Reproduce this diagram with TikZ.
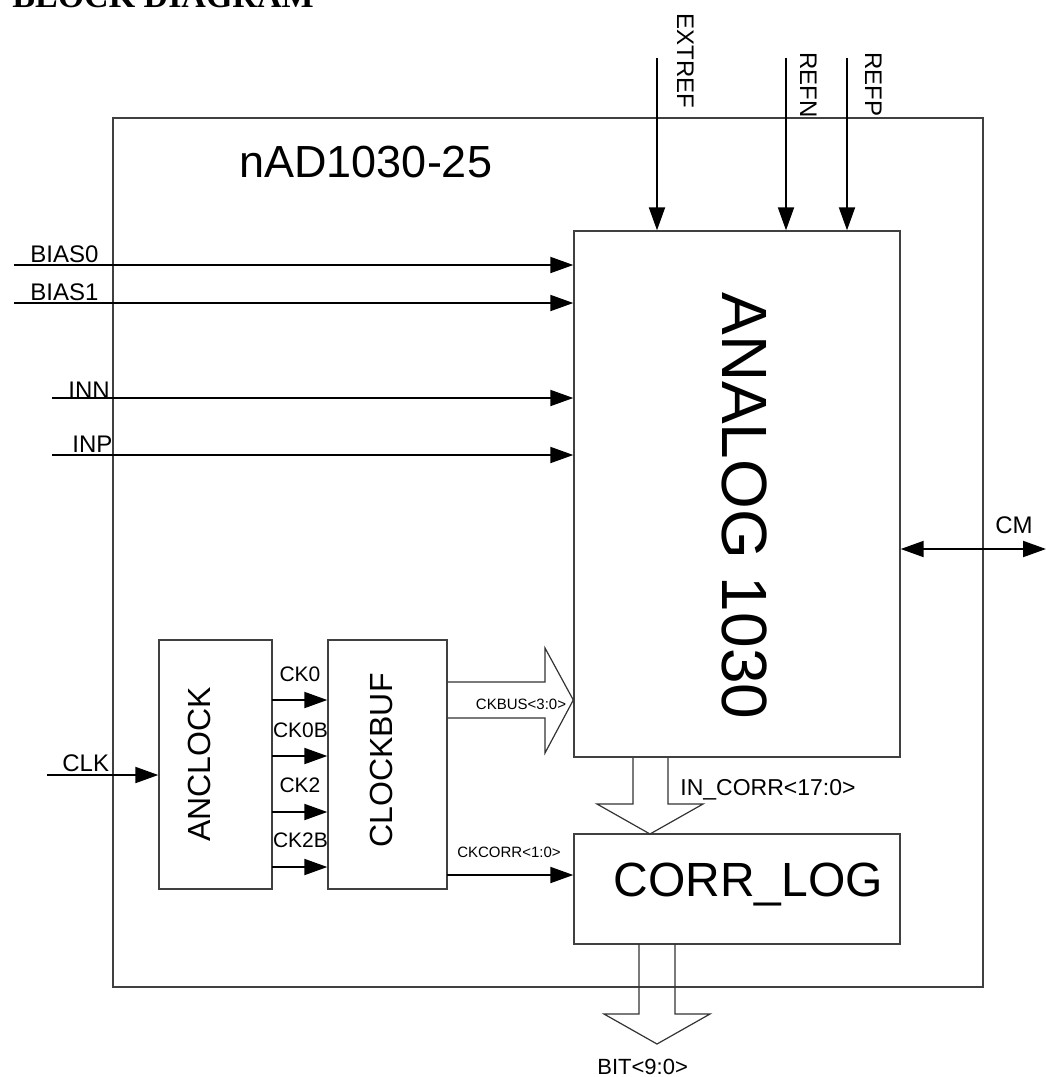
\documentclass[tikz,border=0pt]{standalone}
\usepackage{fontspec}
\setmainfont{Liberation Sans}
\newfontfamily\titlefont{Liberation Serif}
\usepackage{tikz}
\usetikzlibrary{arrows.meta}
\newcommand{\pinfont}{\fontsize{12}{14}\selectfont}
\newcommand{\ckfont}{\fontsize{10.5}{12}\selectfont}
\newcommand{\busfont}{\fontsize{7.5}{9}\selectfont}
\newcommand{\blkfont}[1]{\fontsize{#1}{#1}\selectfont}
\tikzset{
  blk/.style={draw=black!75, line width=0.7pt, inner sep=0pt},
  sig/.style={line width=1pt, -{Triangle[length=11.5pt,width=8pt]}},
  dsig/.style={line width=1pt, {Triangle[length=11.5pt,width=8pt]}-{Triangle[length=11.5pt,width=8pt]}},
  bus/.style={draw=black!80, line width=0.6pt},
  txt/.style={inner sep=0pt, anchor=base west},
}

\begin{document}
\begin{tikzpicture}[x=0.5pt,y=-0.5pt]
\useasboundingbox (0,0) rectangle (1045,1077);
\node[txt] (title) at (12,7) {\titlefont\bfseries\blkfont{17}BLOCK DIAGRAM};
% blocks
\node[blk, minimum width=435pt, minimum height=434.5pt] (chip) at (548,552.5) {};
\node[txt] (chipname) at (239,177) {\blkfont{22.5}nAD1030-25};
\node[blk, minimum width=163pt, minimum height=263pt] (analog) at (737,494) {};
\node[txt, rotate=-90] (analogtxt) at (722,292) {\blkfont{32}ANALOG 1030};
\node[blk, minimum width=163pt, minimum height=55pt] (corr) at (737,889) {};
\node[txt] (corrtxt) at (613,896) {\blkfont{24}CORR\_LOG};
\node[blk, minimum width=56.5pt, minimum height=124.5pt] (anclock) at (215.5,764.5) {};
\node[txt, rotate=90] (anclocktxt) at (210,842) {\blkfont{16}ANCLOCK};
\node[blk, minimum width=59.5pt, minimum height=124.5pt] (clockbuf) at (387.5,764.5) {};
\node[txt, rotate=90] (clockbuftxt) at (392,848) {\blkfont{16}CLOCKBUF};
% inputs on the left
\coordinate (bias0) at (14,265);
\coordinate (bias1) at (14,303);
\coordinate (inn) at (52,398);
\coordinate (inp) at (52,455);
\coordinate (clk) at (47,775);
\node[txt] (bias0lbl) at (30,262) {\pinfont BIAS0};
\node[txt] (bias1lbl) at (30,300) {\pinfont BIAS1};
\node[txt] (innlbl) at (68,398) {\pinfont INN};
\node[txt] (inplbl) at (72,452) {\pinfont INP};
\node[txt] (clklbl) at (62,771) {\pinfont CLK};
\draw[sig] (bias0) -- (bias0 -| analog.west);
\draw[sig] (bias1) -- (bias1 -| analog.west);
\draw[sig] (inn) -- (inn -| analog.west);
\draw[sig] (inp) -- (inp -| analog.west);
\draw[sig] (clk) -- (clk -| anclock.west);
% references on top
\coordinate (extref) at (657,58);
\coordinate (refn) at (786,58);
\coordinate (refp) at (847,58);
\node[txt, rotate=-90] (extreflbl) at (677,13) {\pinfont EXTREF};
\node[txt, rotate=-90] (refnlbl) at (800,52) {\pinfont REFN};
\node[txt, rotate=-90] (refplbl) at (865,52) {\pinfont REFP};
\draw[sig] (extref) -- (extref |- analog.north);
\draw[sig] (refn) -- (refn |- analog.north);
\draw[sig] (refp) -- (refp |- analog.north);
% common mode
\coordinate (cm) at (1046,549);
\node[txt] (cmlbl) at (995,533) {\pinfont CM};
\draw[dsig] (analog.east |- cm) -- (cm);
% clocks
\coordinate (ck0) at (272,700);
\coordinate (ck0b) at (272,756);
\coordinate (ck2) at (272,812);
\coordinate (ck2b) at (272,867);
\node[inner sep=0pt, anchor=base] (ck0lbl) at (300,681) {\ckfont CK0};
\node[inner sep=0pt, anchor=base] (ck0blbl) at (300.5,737) {\ckfont CK0B};
\node[inner sep=0pt, anchor=base] (ck2lbl) at (300,792) {\ckfont CK2};
\node[inner sep=0pt, anchor=base] (ck2blbl) at (300.5,847) {\ckfont CK2B};
\draw[sig] (ck0) -- (ck0 -| clockbuf.west);
\draw[sig] (ck0b) -- (ck0b -| clockbuf.west);
\draw[sig] (ck2) -- (ck2 -| clockbuf.west);
\draw[sig] (ck2b) -- (ck2b -| clockbuf.west);
\coordinate (ckcorr) at (447,875);
\node[inner sep=0pt, anchor=base] (ckcorrlbl) at (509,857) {\busfont CKCORR<1:0>};
\draw[sig] (ckcorr) -- (ckcorr -| corr.west);
% buses
\node[inner sep=0pt, anchor=base] (ckbuslbl) at (521,709) {\busfont CKBUS<3:0>};
\draw[bus] (clockbuf.east |- 0,682) -- (545,682) -- (545,648) -- (analog.west |- 0,700)
  -- (545,753) -- (545,718) -- (clockbuf.east |- 0,718);
\node[txt] (incorrlbl) at (680,795) {\blkfont{11.5}IN\_CORR<17:0>};
\draw[bus] (633,758) -- (633,804) -- (597,804) -- (650,834) -- (703,804) -- (668,804) -- (668,758);
\node[txt] (bitlbl) at (597,1074) {\blkfont{11}BIT<9:0>};
\draw[bus] (639,944) -- (639,1014) -- (604,1014) -- (657,1044) -- (710,1014) -- (675,1014) -- (675,944);
\end{tikzpicture}
\end{document}
